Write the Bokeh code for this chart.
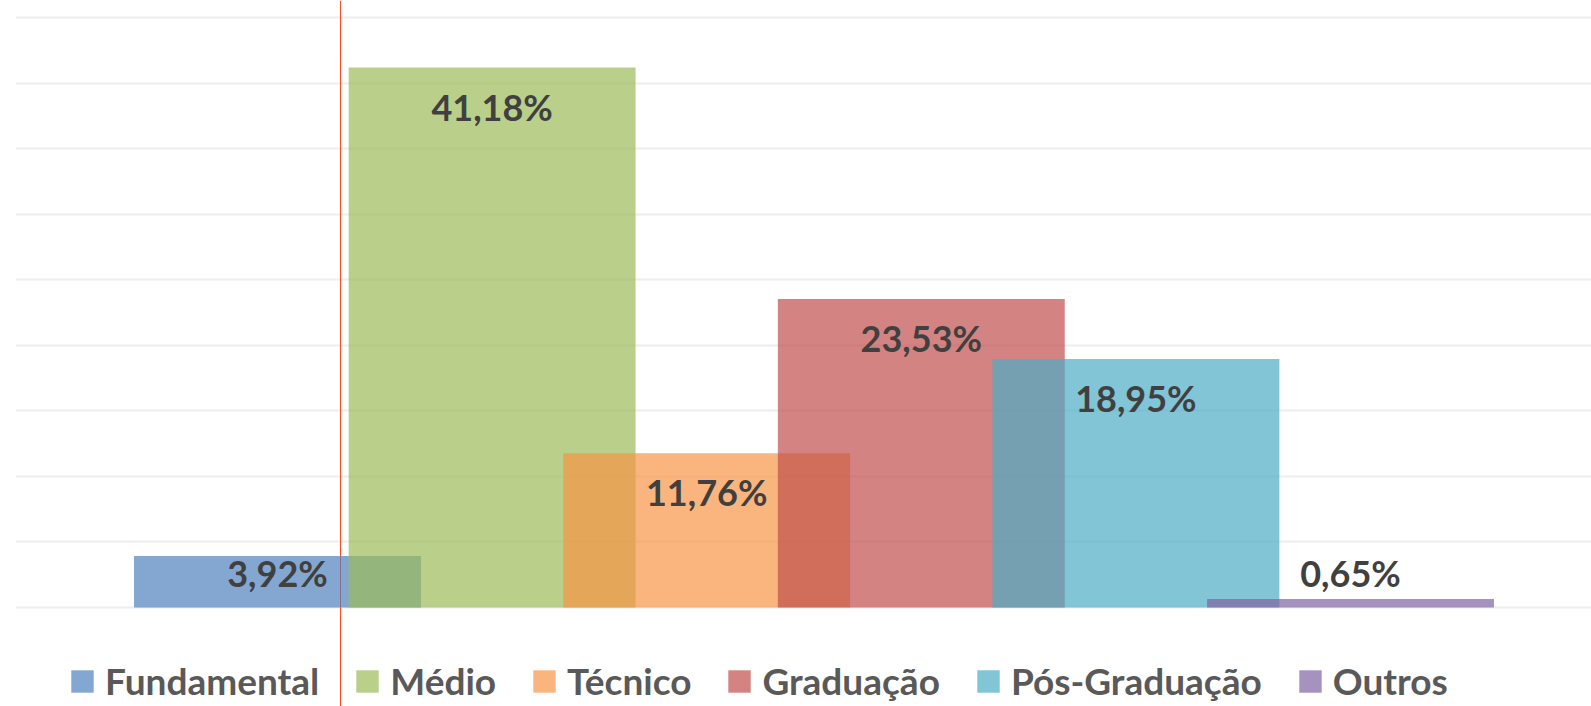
from bokeh.plotting import figure
from bokeh.models import (ColumnDataSource, Range1d, Grid, FixedTicker, Span,
                          LabelSet, Legend, LegendItem)
from bokeh.core.properties import value
from bokeh.embed import file_html
from bokeh.resources import INLINE

# ---- data ----
categories = ["Fundamental", "Médio", "Técnico", "Graduação", "Pós-Graduação", "Outros"]
values = [3.92, 41.18, 11.76, 23.53, 18.95, 0.65]
colors = ["#4F81BD", "#9BBB59", "#F79646", "#C0504D", "#4BACC6", "#8064A2"]
y_ticks = [0, 5, 10, 15, 20, 25, 30, 35, 40, 45]

idx = list(range(len(categories)))
labels = [f"{v:.2f}".replace(".", ",") + "%" for v in values]
label_y = [v if v >= 5 else 0 for v in values]
label_off = [-39 if v >= 5 else 34.5 for v in values]

src = ColumnDataSource(dict(x=idx, top=values, cat=categories, color=colors,
                            label=labels, ly=label_y, loff=label_off))

W, H = 1591, 706
p = figure(width=W, height=H, output_backend="svg", toolbar_location=None,
           x_range=Range1d(-1.2209, 6.1230), y_range=Range1d(-7.551, 46.2966),
           min_border_left=15, min_border_right=0, min_border_top=0, min_border_bottom=0)
p.xaxis.visible = False
p.yaxis.visible = False
p.xgrid.visible = False
p.ygrid.visible = False
p.outline_line_color = None
p.background_fill_color = "white"

grid = Grid(dimension=1, ticker=FixedTicker(ticks=y_ticks),
            grid_line_color="#eeeeee", grid_line_width=2)
p.add_layout(grid)

red = Span(location=0.2935, dimension="height", line_color="#ff4a1c", line_width=1,
           level="underlay")
p.add_layout(red)

r = p.vbar(x="x", top="top", bottom=0, width=1.337, source=src,
           fill_color="color", fill_alpha=0.7, line_color=None)

lbl = LabelSet(x="x", y="ly", y_offset="loff", text="label", source=src,
               text_align="center", text_baseline="middle",
               text_font=value("Lato"), text_font_style="bold",
               text_font_size="36px", text_color="#404040")
p.add_layout(lbl)

items = [LegendItem(label=c, renderers=[r], index=i) for i, c in enumerate(categories)]
legend = Legend(items=items, orientation="horizontal", location=(53, 3),
                glyph_width=28, glyph_height=28, label_standoff=9, spacing=34,
                padding=0, margin=0, border_line_color=None,
                background_fill_alpha=0,
                label_text_font="Lato", label_text_font_style="bold",
                label_text_font_size="37px", label_text_color="#595959",
                label_text_baseline="middle")
p.add_layout(legend)

open("out.html", "w").write(file_html(p, INLINE))
